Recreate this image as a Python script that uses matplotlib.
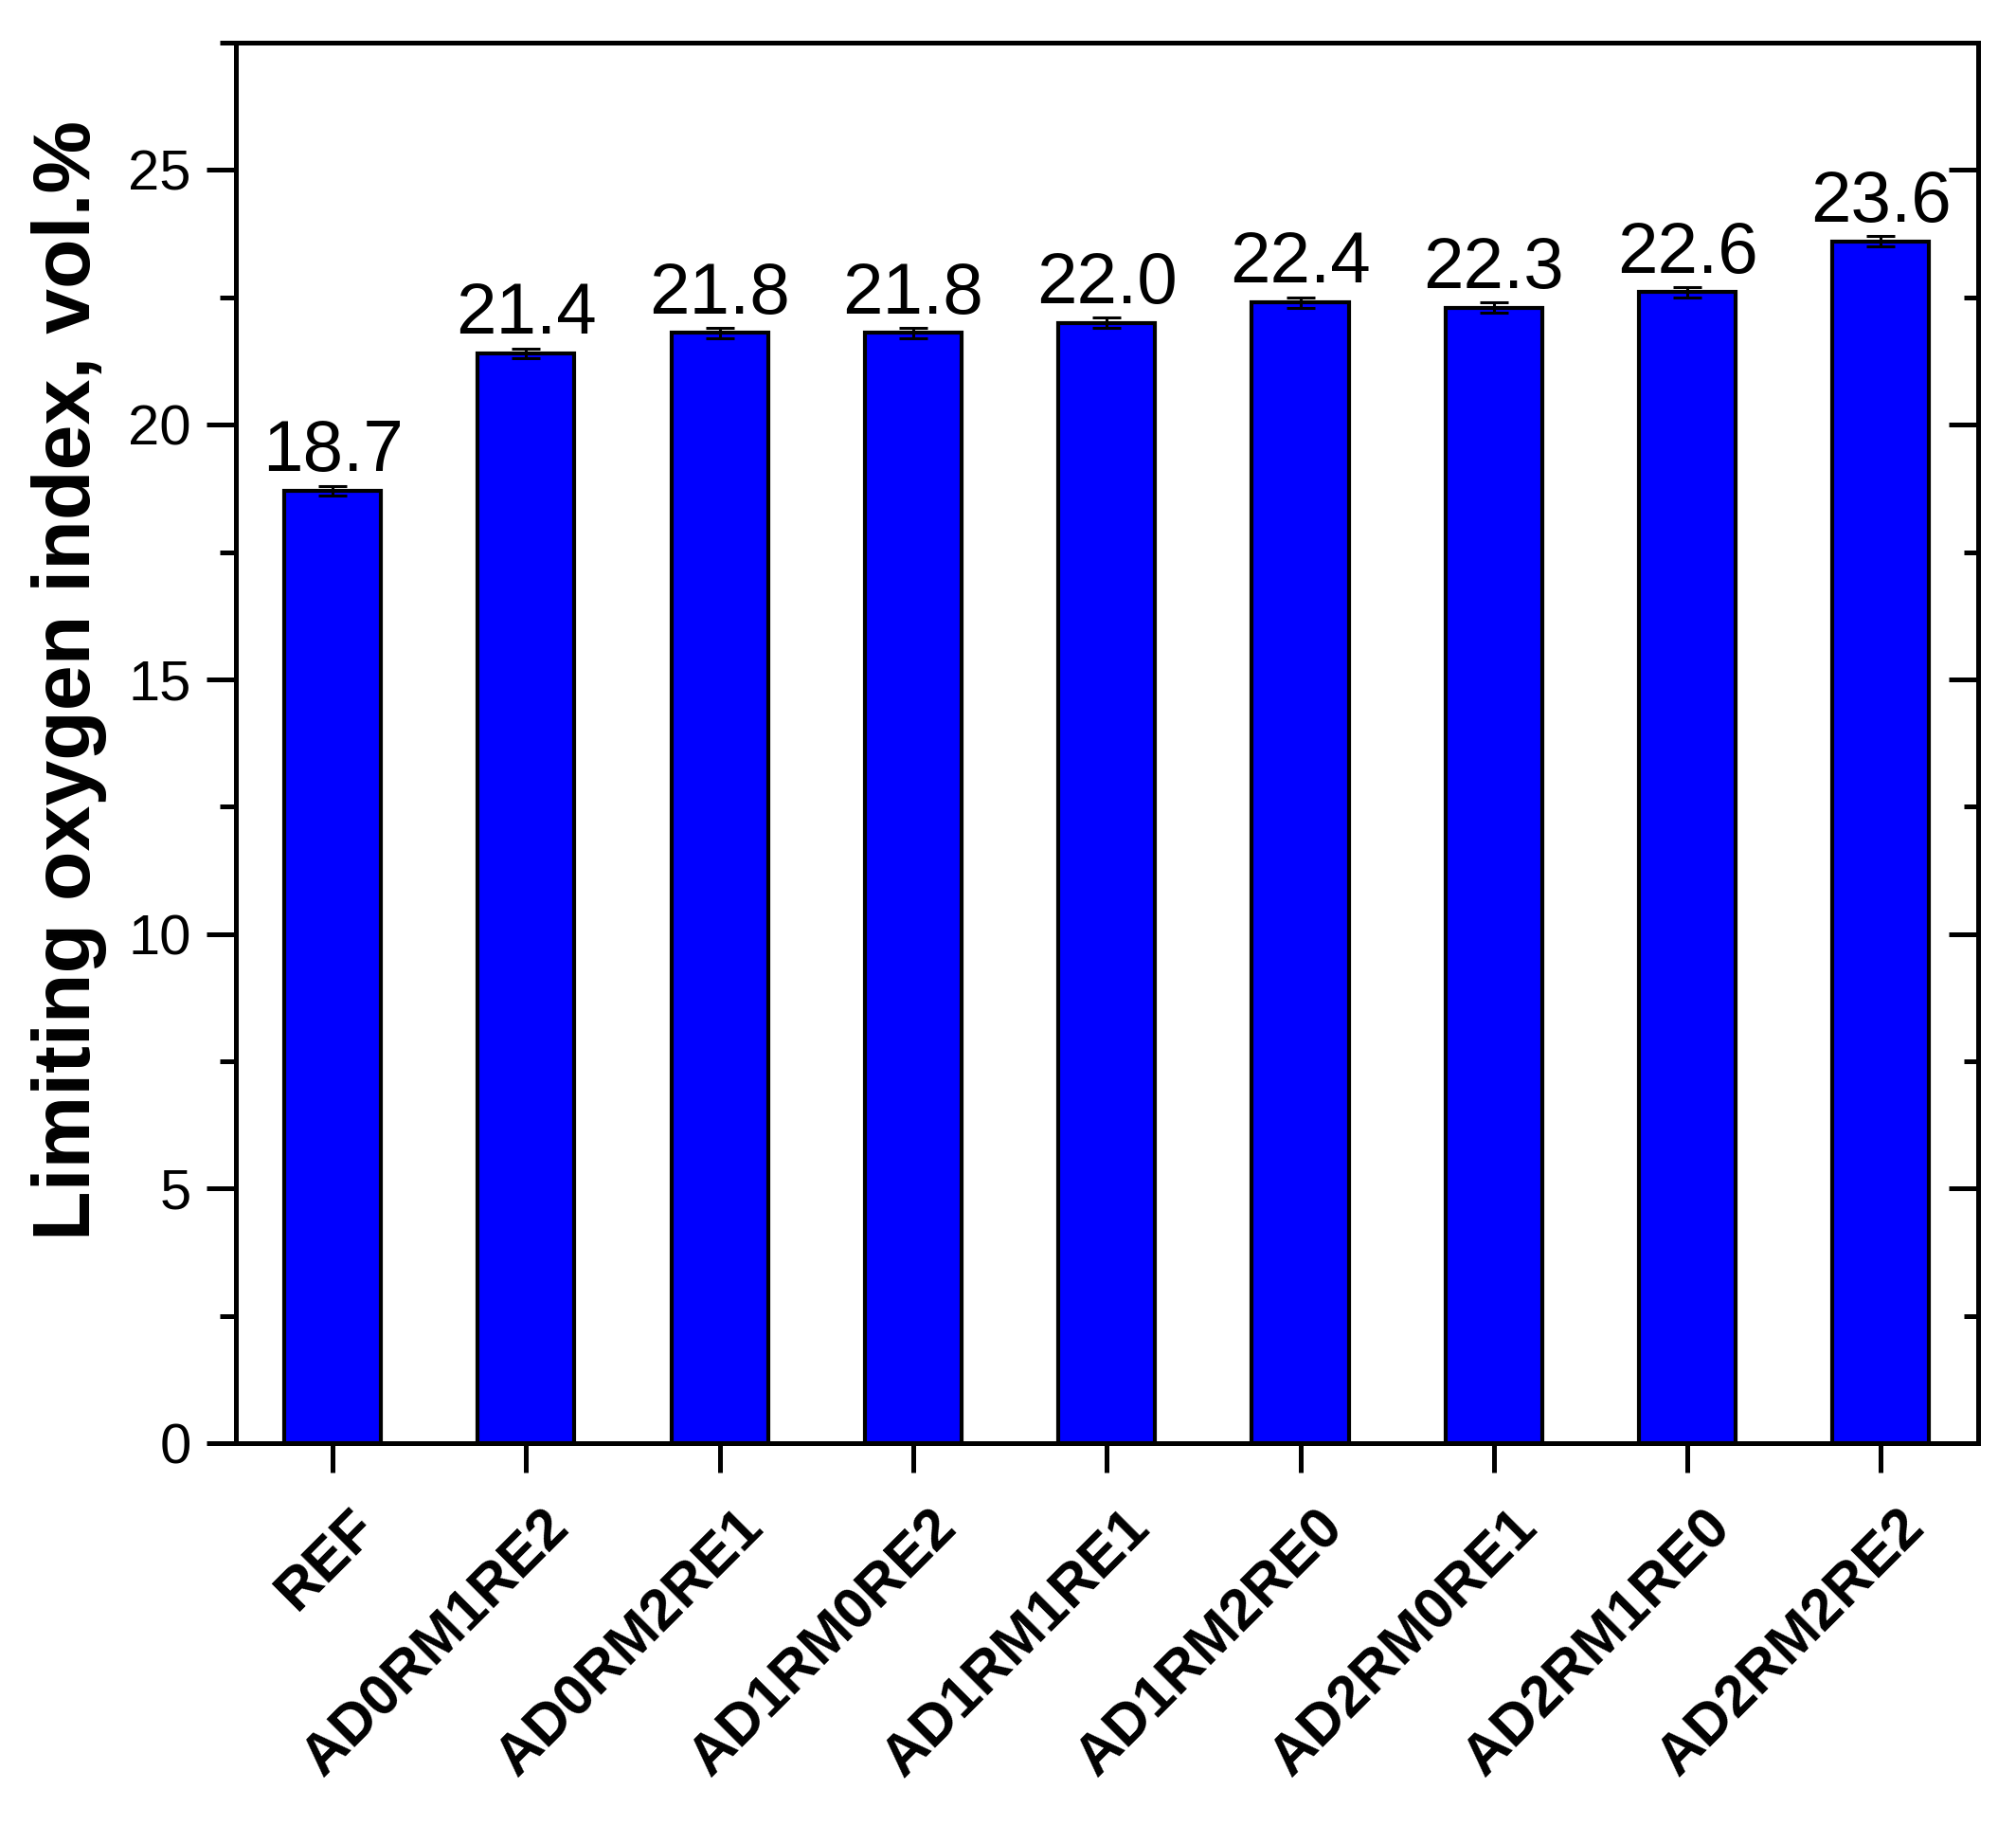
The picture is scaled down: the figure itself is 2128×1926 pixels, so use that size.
"""Limiting oxygen index bar chart."""

import matplotlib.pyplot as plt
from matplotlib.ticker import MultipleLocator
from matplotlib.transforms import ScaledTranslation

plt.rcParams["font.family"] = ["Liberation Sans", "DejaVu Sans"]

samples = [
    "REF", "AD0RM1RE2", "AD0RM2RE1", "AD1RM0RE2", "AD1RM1RE1",
    "AD1RM2RE0", "AD2RM0RE1", "AD2RM1RE0", "AD2RM2RE2",
]
loi = [18.7, 21.4, 21.8, 21.8, 22.0, 22.4, 22.3, 22.6, 23.6]
loi_err = [0.1, 0.1, 0.1, 0.1, 0.1, 0.1, 0.1, 0.1, 0.1]

fig = plt.figure(figsize=(21.28, 19.26), dpi=100)
ax = fig.add_axes([0.117, 0.2092, 0.864, 0.7674])

x = list(range(len(samples)))
ax.bar(x, loi, width=0.5, color="#0000ff", edgecolor="black", linewidth=3, zorder=2)
ax.errorbar(x, loi, yerr=loi_err, fmt="none", ecolor="black",
            elinewidth=2.2, capsize=11, capthick=2.2, zorder=3)

for xi, v in zip(x, loi):
    ax.annotate(f"{v:.1f}", (xi, v), xytext=(0, 15), textcoords="offset points",
                ha="center", va="baseline", fontsize=55)

ax.set_xlim(-0.5, 8.5)
ax.set_ylim(0, 27.5)
ax.yaxis.set_major_locator(MultipleLocator(5))
ax.yaxis.set_minor_locator(MultipleLocator(2.5))

for side in ax.spines.values():
    side.set_linewidth(3.6)

ax.tick_params(axis="y", which="both", direction="out", left=True, right=False,
               labelsize=43, width=3.6, pad=12)
ax.tick_params(axis="y", which="major", length=22)
ax.tick_params(axis="y", which="minor", length=12)
ax.tick_params(axis="x", which="major", direction="out", length=22, width=3.6, pad=14)

# inward ticks on the right side
ax2 = ax.twinx()
ax2.set_ylim(ax.get_ylim())
ax2.yaxis.set_major_locator(MultipleLocator(5))
ax2.yaxis.set_minor_locator(MultipleLocator(2.5))
ax2.tick_params(axis="y", which="both", direction="in", labelright=False, width=3.6)
ax2.tick_params(axis="y", which="major", length=22)
ax2.tick_params(axis="y", which="minor", length=11)
for side in ax2.spines.values():
    side.set_linewidth(3.6)

ax.set_xticks(x)
ax.set_xticklabels(samples, rotation=45, ha="right", va="top",
                   rotation_mode="anchor", fontsize=44, fontweight="bold")
shift = ScaledTranslation(17 / 100, -10 / 100, fig.dpi_scale_trans)
for lbl in ax.get_xticklabels():
    lbl.set_transform(lbl.get_transform() + shift)

ax.set_ylabel("Limiting oxygen index, vol.%", fontsize=62, fontweight="bold",
              labelpad=16, y=0.545)

fig.savefig("out.png", dpi=100)
